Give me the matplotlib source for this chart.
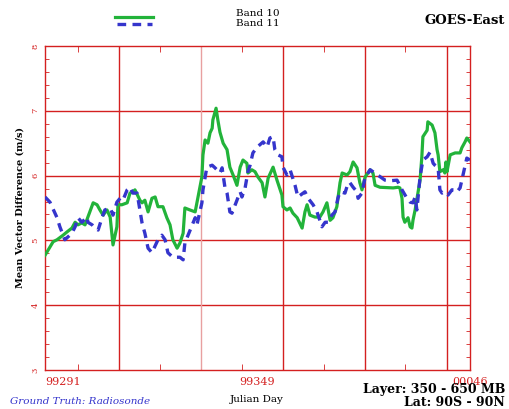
import matplotlib
matplotlib.use("Agg")
import matplotlib.pyplot as plt
from matplotlib.lines import Line2D
import numpy as np

# Band 10 (green) - day offset from 99291, mean vector difference (m/s)
b10_day = [0, 2.3, 3.4, 5.1, 6.2, 7.6, 8.5, 9.3, 10.4, 11.3, 12.1, 13.6, 14.7, 15.5,
           16.4, 17.5, 18.4, 19.2, 20.3, 20.6, 21.7, 23.2, 24.0, 24.8, 25.4, 26.8,
           27.4, 28.2, 29.1, 30.2, 31.1, 31.9, 33.3, 34.4, 35.3, 36.1, 37.3, 38.1,
           39.0, 39.5, 40.9, 42.4, 43.2, 44.3, 44.6, 45.2, 46.0, 46.6, 47.2, 47.4,
           48.3, 48.8, 49.4, 50.3, 51.4, 52.2, 53.1, 54.2, 55.1, 55.9, 57.0, 57.3,
           58.4, 59.3, 60.1, 61.3, 62.1, 63.0, 64.4, 65.5, 66.9, 67.2, 68.3, 69.2,
           70.0, 71.2, 72.6, 73.4, 74.0, 74.8, 76.2, 77.6, 78.5, 79.6, 80.5, 81.3,
           82.4, 83.3, 83.9, 85.3, 86.1, 87.0, 88.1, 88.9, 89.5, 90.4, 91.8, 92.6,
           93.2, 94.6, 98.3, 99.7, 100.2, 100.8, 101.1, 101.6, 102.5, 103.1, 103.6,
           103.9, 104.5, 105.3, 105.9, 106.4, 106.7, 107.9, 108.1, 109.3, 110.1,
           110.7, 111.0, 111.5, 112.4, 112.9, 113.2, 113.5, 114.4, 115.8, 117.2,
           117.7, 118.6, 119.1, 120.0]
b10_val = [4.77, 4.98, 5.01, 5.08, 5.13, 5.19, 5.28, 5.24, 5.27, 5.24, 5.36, 5.58, 5.55, 5.47,
           5.39, 5.47, 5.36, 4.93, 5.21, 5.55, 5.55, 5.58, 5.73, 5.75, 5.78, 5.62,
           5.58, 5.62, 5.44, 5.65, 5.67, 5.52, 5.52, 5.35, 5.24, 5.01, 4.88, 4.96,
           5.11, 5.50, 5.47, 5.44, 5.67, 5.98, 6.32, 6.55, 6.50, 6.66, 6.73, 6.86,
           7.04, 6.86, 6.67, 6.50, 6.40, 6.13, 6.01, 5.85, 6.13, 6.24, 6.19, 6.04,
           6.09, 6.06, 5.98, 5.89, 5.67, 5.96, 6.13, 5.93, 5.70, 5.52, 5.47, 5.50,
           5.42, 5.35, 5.19, 5.44, 5.55, 5.39, 5.36, 5.36, 5.44, 5.58, 5.31, 5.35,
           5.52, 5.89, 6.04, 6.01, 6.06, 6.21, 6.12, 5.89, 5.78, 5.98, 6.09, 6.04,
           5.85, 5.82, 5.81, 5.82, 5.81, 5.65, 5.36, 5.28, 5.35, 5.21, 5.19,
           5.31, 5.47, 5.73, 5.93, 6.29, 6.60, 6.70, 6.83, 6.78, 6.66,
           6.40, 6.32, 6.06, 6.09, 6.04, 6.21, 6.06, 6.32, 6.35, 6.35,
           6.43, 6.52, 6.58, 6.52]

# Band 11 (blue dashed)
b11_day = [0, 1.4, 3.4, 4.2, 5.6, 6.2, 7.6, 8.5, 9.3, 10.4, 11.9, 12.1, 13.3, 14.1, 15.0,
           16.1, 16.9, 18.4, 19.2, 20.3, 21.2, 22.0, 23.2, 24.0, 24.8, 26.0, 27.4,
           28.2, 29.1, 30.2, 31.9, 33.0, 33.9, 34.7, 36.1, 38.1, 39.0, 39.5, 42.4,
           42.9, 44.3, 44.6, 45.7, 47.2, 48.0, 49.4, 50.0, 50.8, 51.4, 52.2, 52.8,
           54.2, 55.1, 55.6, 56.5, 57.3, 57.9, 58.7, 59.9, 61.6, 62.7, 63.5, 64.4,
           64.9, 65.8, 66.9, 67.2, 68.3, 69.2, 70.6, 71.4, 73.4, 74.3, 75.7, 76.8,
           77.6, 78.2, 79.1, 79.9, 81.0, 81.9, 82.7, 83.3, 84.7, 85.6, 86.1, 87.0,
           88.1, 88.4, 89.5, 90.4, 90.9, 91.8, 92.6, 96.0, 97.4, 99.4, 100.8, 102.2,
           103.1, 103.9, 104.5, 105.0, 105.9, 106.7, 107.9, 108.7, 109.6, 110.1,
           111.0, 111.5, 112.1, 112.9, 113.8, 114.9, 115.8, 116.3, 117.2, 117.7,
           119.1, 120.0]
b11_val = [5.67, 5.59, 5.35, 5.21, 5.01, 5.04, 5.11, 5.21, 5.35, 5.28, 5.36, 5.28, 5.24, 5.19, 5.16,
           5.35, 5.47, 5.50, 5.39, 5.59, 5.65, 5.62, 5.78, 5.82, 5.73, 5.73, 5.27,
           5.11, 4.88, 4.81, 5.01, 5.08, 5.01, 4.81, 4.74, 4.74, 4.70, 4.96, 5.35,
           5.24, 5.58, 5.78, 6.13, 6.16, 6.12, 6.04, 6.12, 5.82, 5.73, 5.44, 5.42,
           5.62, 5.75, 5.67, 5.81, 6.06, 6.16, 6.35, 6.44, 6.52, 6.44, 6.58, 6.60,
           6.40, 6.32, 6.29, 6.13, 6.01, 6.09, 5.85, 5.67, 5.75, 5.65, 5.55, 5.44,
           5.31, 5.21, 5.28, 5.28, 5.39, 5.44, 5.65, 5.75, 5.73, 5.89, 5.89, 5.82,
           5.75, 5.65, 5.73, 5.98, 6.01, 6.09, 6.06, 5.93, 5.92, 5.93, 5.78, 5.65,
           5.59, 5.58, 5.67, 5.47, 5.98, 6.24, 6.29, 6.36, 6.19, 6.16,
           6.12, 5.78, 5.73, 5.75, 5.70, 5.78, 5.78, 5.75, 5.81, 5.93,
           6.27, 6.24]

xtick_pos = [0, 60, 120]
xtick_lab = ["99291", "99349", "00046"]
grid_x = [20.9, 44.05, 67.2, 90.35, 113.5]
minor_x = [9.3, 32.5, 55.6, 78.8, 101.6]

red = "#d42020"
green = "#22b33a"
blue = "#3535cc"
serif = "DejaVu Serif"

fig = plt.figure(figsize=(5.10, 4.09), dpi=100)
ax = fig.add_axes([45 / 510, 1 - 370 / 409, 425 / 510, 324 / 409])
ax.set_xlim(0, 120)
ax.set_ylim(3, 8)

for yv in [4, 5, 6, 7]:
    ax.axhline(yv, color=red, lw=1.0, zorder=1)
for i, xv in enumerate(grid_x):
    ax.axvline(xv, color="#e8a0a0" if i == 1 else red, lw=1.0, zorder=1)

ax.plot(b10_day, b10_val, color=green, lw=2.3, zorder=3, solid_joinstyle="round")
ax.plot(b11_day, b11_val, color=blue, lw=2.4, dashes=(2.6, 1.9), zorder=4)

for s in ax.spines.values():
    s.set_color(red)
    s.set_linewidth(1.0)

ax.set_xticks(xtick_pos)
ax.set_xticklabels(xtick_lab, color=red, family=serif, fontsize=8)
ax.get_xticklabels()[0].set_ha("left")
ax.tick_params(axis="x", which="major", length=0, pad=5)
ax.set_xticks(minor_x, minor=True)
ax.tick_params(axis="x", which="minor", direction="in", length=4, color=red,
               top=True, bottom=True)

ax.set_yticks([3, 4, 5, 6, 7, 8])
ax.set_yticklabels(["3", "4", "5", "6", "7", "8"], color=red, fontsize=6,
                   family=serif, rotation=90, va="center")
ax.tick_params(axis="y", which="major", length=0, pad=4)
ax.set_yticks(np.arange(3, 8.01, 0.2), minor=True)
ax.tick_params(axis="y", which="minor", direction="in", length=3, color=red,
               left=True, right=True)

fig.text(20 / 510, 1 - 208 / 409, "Mean Vector Difference (m/s)", rotation=90,
         ha="center", va="center", fontsize=7, fontweight="bold", family=serif)
fig.text(257 / 510, 1 - 400 / 409, "Julian Day", ha="center", va="center",
         fontsize=7.5, family=serif)
fig.text(10 / 510, 1 - 402 / 409, "Ground Truth: Radiosonde", ha="left",
         va="center", fontsize=7.5, style="italic", color=blue, family=serif)
fig.text(505 / 510, 1 - 389 / 409, "Layer: 350 - 650 MB", ha="right",
         va="center", fontsize=9, fontweight="bold", family=serif)
fig.text(505 / 510, 1 - 402 / 409, "Lat: 90S - 90N", ha="right",
         va="center", fontsize=9, fontweight="bold", family=serif)
fig.text(505 / 510, 1 - 20 / 409, "GOES-East", ha="right", va="center",
         fontsize=9.5, fontweight="bold", family=serif)

# legend drawn by hand
fig.add_artist(Line2D([115 / 510, 153 / 510], [1 - 17 / 409] * 2, color=green, lw=2.3))
fig.add_artist(Line2D([117 / 510, 152 / 510], [1 - 24 / 409] * 2, color=blue, lw=2.4,
                      dashes=(2.6, 1.9)))
fig.text(236 / 510, 1 - 13 / 409, "Band 10", ha="left", va="center", fontsize=7.5, family=serif)
fig.text(236 / 510, 1 - 23 / 409, "Band 11", ha="left", va="center", fontsize=7.5, family=serif)

fig.savefig("out.png", dpi=100)
